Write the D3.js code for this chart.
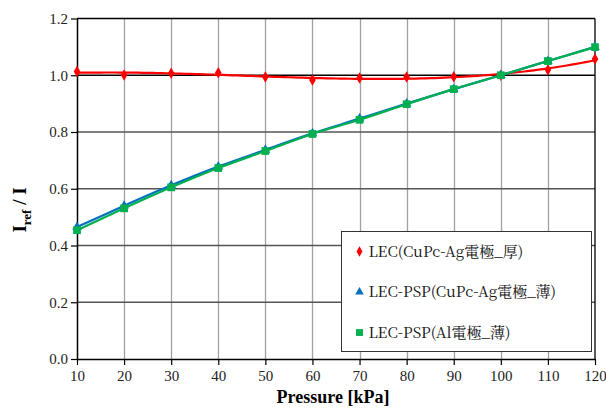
<!DOCTYPE html>
<html>
<head>
<meta charset="utf-8">
<script src="https://cdn.jsdelivr.net/npm/d3@7"></script>
<style>
  body { margin: 0; background: #fff; }
</style>
</head>
<body>
<div id="chart"></div>
<script>
var pressure = [10, 20, 30, 40, 50, 60, 70, 80, 90, 100, 110, 120];
var lecThick = [1.013, 1.001, 1.007, 1.009, 0.994, 0.983, 0.990, 0.994, 0.995, 1.000, 1.019, 1.057];
var pspCuPc = [0.465, 0.540, 0.612, 0.678, 0.737, 0.795, 0.847, 0.900, 0.951, 1.000, 1.050, 1.100];
var pspAl = [0.454, 0.531, 0.605, 0.673, 0.733, 0.793, 0.843, 0.898, 0.951, 1.000, 1.050, 1.099];
var seriesNames = ["LEC(CuPc-Ag電極_厚)", "LEC-PSP(CuPc-Ag電極_薄)", "LEC-PSP(Al電極_薄)"];
var yTicks = [0, 0.2, 0.4, 0.6, 0.8, 1.0, 1.2];

var margin = {left: 77, right: 11, top: 18.5, bottom: 49},
    width = 606 - margin.left - margin.right,
    height = 408 - margin.top - margin.bottom;

var svg = d3.select('#chart').append('svg')
    .attr('width', 606)
    .attr('height', 408);

var g = svg.append('g')
    .attr('transform', `translate(${margin.left},${margin.top})`);

var x = d3.scaleLinear().domain([10, 120]).range([0, width]);
var y = d3.scaleLinear().domain([0, 1.2]).range([height, 0]);

// grid
g.selectAll('.vgrid')
    .data(pressure.slice(1, -1))
    .enter().append('line')
    .attr('x1', function(d) { return Math.round(x(d)) + 0.5; })
    .attr('x2', function(d) { return Math.round(x(d)) + 0.5; })
    .attr('y1', 0).attr('y2', height)
    .attr('stroke', '#a0a0a0').attr('stroke-width', 1.3);

g.selectAll('.hgrid')
    .data(yTicks.slice(1))
    .enter().append('line')
    .attr('x1', 0).attr('x2', width)
    .attr('y1', function(d) { return y(d); })
    .attr('y2', function(d) { return y(d); })
    .attr('stroke', function(d) { return (d === 1.0 || d === 1.2) ? '#000' : '#555'; })
    .attr('stroke-width', 1.3);

// right border
g.append('line')
    .attr('x1', width).attr('x2', width)
    .attr('y1', 0).attr('y2', height)
    .attr('stroke', '#000').attr('stroke-width', 1.3);

// axes
var xAxis = d3.axisBottom(x).tickValues(pressure).tickSize(6).tickSizeOuter(0);
var yAxis = d3.axisLeft(y).tickValues(yTicks).tickSize(6).tickSizeOuter(0)
    .tickFormat(d3.format('.1f'));

var gx = g.append('g')
    .attr('transform', `translate(0,${height})`)
    .call(xAxis);
var gy = g.append('g').call(yAxis);

[gx, gy].forEach(function(a) {
    a.attr('font-family', 'Liberation Serif').attr('font-size', 15);
    a.select('.domain').attr('stroke', '#000').attr('stroke-width', 1.5);
    a.selectAll('.tick line').attr('stroke', '#000').attr('stroke-width', 1.2);
    a.selectAll('.tick text').attr('fill', '#222');
});
gx.selectAll('.tick text').attr('y', 8).attr('dy', '0.9em');
gy.selectAll('.tick text').attr('x', -9);

// cubic least-squares trendline for the red series (as the source chart shows)
function polyFit(xs, ys, order) {
    var n = order + 1, A = [], b = [];
    for (var r = 0; r < n; r++) {
        A.push([]);
        for (var c = 0; c < n; c++) A[r].push(d3.sum(xs, function(v) { return Math.pow(v, r + c); }));
        b.push(d3.sum(xs, function(v, i) { return ys[i] * Math.pow(v, r); }));
    }
    for (var k = 0; k < n; k++) {
        for (var r2 = k + 1; r2 < n; r2++) {
            var f = A[r2][k] / A[k][k];
            for (var c2 = k; c2 < n; c2++) A[r2][c2] -= f * A[k][c2];
            b[r2] -= f * b[k];
        }
    }
    var coef = new Array(n);
    for (var k2 = n - 1; k2 >= 0; k2--) {
        var s = b[k2];
        for (var j = k2 + 1; j < n; j++) s -= A[k2][j] * coef[j];
        coef[k2] = s / A[k2][k2];
    }
    return function(v) { return d3.sum(coef, function(cf, i) { return cf * Math.pow(v, i); }); };
}

var xs = pressure.map(function(p) { return (p - 65) / 55; });
var fit = polyFit(xs, lecThick, 3);
var trend = d3.range(10, 120.5, 1).map(function(p) { return [p, fit((p - 65) / 55)]; });

var series = [
    {values: lecThick, color: '#ff0000', symbol: d3.symbolDiamond, size: 38},
    {values: pspCuPc, color: '#0070c0', symbol: d3.symbolTriangle, size: 40},
    {values: pspAl, color: '#00b050', symbol: d3.symbolSquare, size: 60}
];

var line = d3.line()
    .x(function(d, i) { return x(pressure[i]); })
    .y(function(d) { return y(d); })
    .curve(d3.curveCatmullRom.alpha(0.5));

g.append('path')
    .datum(trend)
    .attr('fill', 'none')
    .attr('stroke', '#ff0000')
    .attr('stroke-width', 2.2)
    .attr('d', d3.line().x(function(d) { return x(d[0]); }).y(function(d) { return y(d[1]); }));

series.forEach(function(s, k) {
    if (k > 0) {
        g.append('path')
            .datum(s.values)
            .attr('fill', 'none')
            .attr('stroke', s.color)
            .attr('stroke-width', 2.2)
            .attr('d', line);
    }
    g.selectAll(null)
        .data(s.values)
        .enter().append('path')
        .attr('transform', function(d, i) { return `translate(${x(pressure[i])},${y(d)})`; })
        .attr('d', d3.symbol().type(s.symbol).size(s.size))
        .attr('fill', s.color);
});

// legend
var legend = svg.append('g').attr('transform', 'translate(341.5,231.5)');
legend.append('rect')
    .attr('width', 250).attr('height', 120)
    .attr('fill', '#fff')
    .attr('stroke', '#333').attr('stroke-width', 1);

var items = legend.selectAll('.item')
    .data(series)
    .enter().append('g')
    .attr('transform', function(d, i) { return `translate(18,${20 + i * 40.5})`; });

items.append('path')
    .attr('d', function(d) { return d3.symbol().type(d.symbol).size(d.size * 0.8)(); })
    .attr('fill', function(d) { return d.color; });

items.append('text')
    .attr('x', 9)
    .attr('dy', '0.36em')
    .attr('font-family', 'Noto Serif CJK JP')
    .attr('font-size', 15)
    .attr('fill', '#111')
    .text(function(d, i) { return seriesNames[i]; });

// axis titles
svg.append('text')
    .attr('x', 333).attr('y', 403)
    .attr('text-anchor', 'middle')
    .attr('font-family', 'Liberation Serif')
    .attr('font-weight', 'bold')
    .attr('font-size', 18)
    .text('Pressure [kPa]');

var yt = svg.append('text')
    .attr('transform', 'translate(26,210) rotate(-90)')
    .attr('text-anchor', 'middle')
    .attr('font-family', 'Liberation Serif')
    .attr('font-weight', 'bold')
    .attr('font-size', 19);
yt.append('tspan').text('I');
yt.append('tspan').attr('dy', 5).attr('font-size', 13).text('ref');
yt.append('tspan').attr('dy', -5).text(' / I');
</script>
</body>
</html>
